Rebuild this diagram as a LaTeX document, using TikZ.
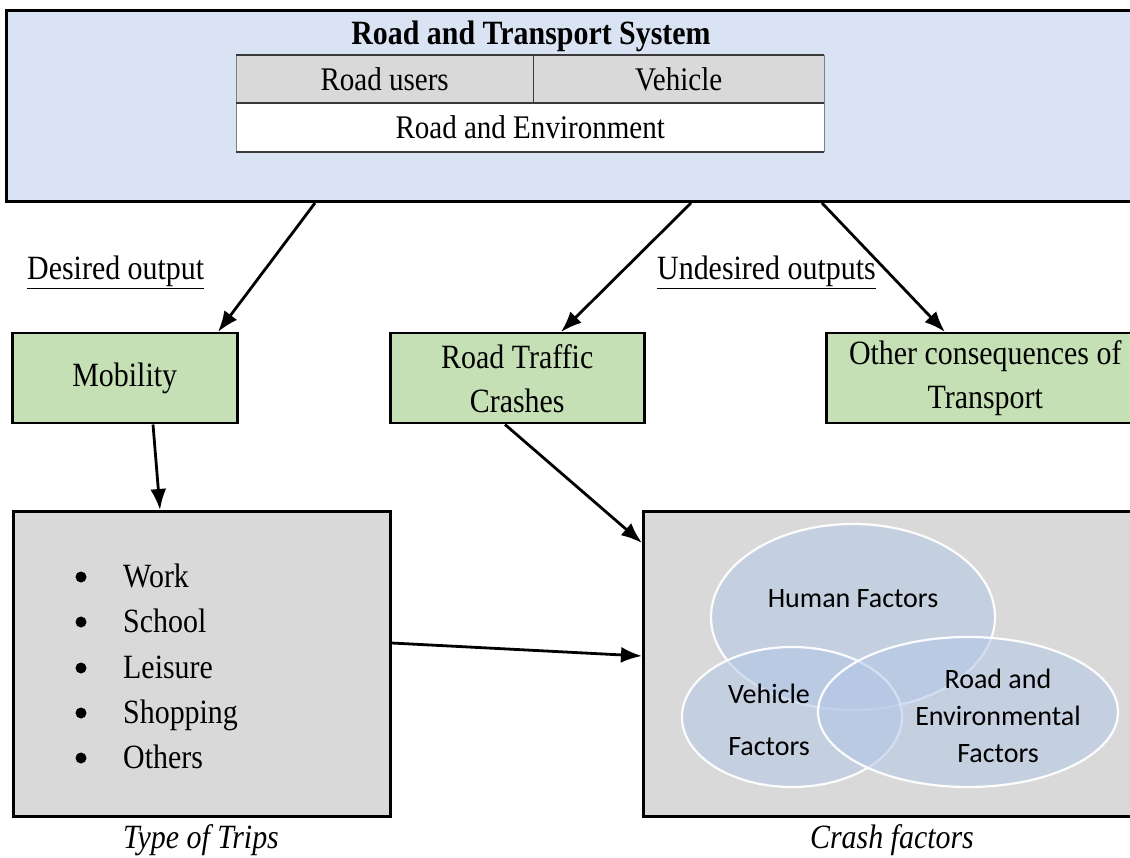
\documentclass[tikz,border=0pt]{standalone}
\usepackage{fontspec}
\setmainfont[FakeStretch=0.88]{Liberation Serif}
\newfontfamily\calfont{Carlito}
\usetikzlibrary{arrows.meta,shapes.geometric,calc}
\definecolor{topfill}{HTML}{DAE3F3}
\definecolor{greenfill}{HTML}{C5E0B4}
\definecolor{greyfill}{HTML}{D9D9D9}
\definecolor{ellfill}{HTML}{B4C7E7}
\definecolor{tblline}{HTML}{3A3A3A}
\begin{document}
\begin{tikzpicture}[x=1pt,y=-1pt,
  txt/.style={font=\fontsize{34}{44}\selectfont, inner sep=0pt},
  caltxt/.style={font=\calfont\fontsize{28}{34}\selectfont, inner sep=0pt},
  topbox/.style={draw=black, line width=3pt, fill=topfill, anchor=north west, inner sep=0pt},
  greenbox/.style={draw=black, line width=2.5pt, fill=greenfill, anchor=north west, inner sep=0pt, align=center, font=\fontsize{34}{44}\selectfont},
  greybox/.style={draw=black, line width=2.5pt, fill=greyfill, anchor=north west, inner sep=0pt},
  cell/.style={anchor=north west, inner sep=0pt, font=\fontsize{33}{40}\selectfont},
  bulletdot/.style={circle, fill=black, inner sep=0pt, minimum size=11pt},
  ell/.style={ellipse, draw=white, line width=2.2pt, fill=ellfill, fill opacity=0.55, draw opacity=0.95, inner sep=0pt},
  arr/.style={-{Latex[length=21pt,width=16pt]}, line width=2.8pt, black}]
\useasboundingbox (0,0) rectangle (1130,858);
\clip (0,0) rectangle (1130,858);
\fill[white] (0,0) rectangle (1130,858);

% top system box
\node[topbox, minimum width=1135pt, minimum height=191pt] (sys) at (5,9) {};
\node[txt, font=\fontsize{34}{40}\selectfont\bfseries] (title) at (531,36) {Road and Transport System};

% table
\node[cell, fill=greyfill, minimum width=297pt, minimum height=48pt] (ru) at (236,55) {Road users};
\node[cell, fill=greyfill, minimum width=291pt, minimum height=48pt] (veh) at (533,55) {Vehicle};
\node[cell, fill=white, minimum width=588pt, minimum height=49pt] (env) at (236,103) {Road and Environment};
\draw[gray, line width=0.8pt] (ru.north west) -- (env.south west);
\draw[gray, line width=0.8pt] (veh.north east) -- (env.south east);
\draw[tblline, line width=1pt] (veh.north west) -- (veh.south west);
\draw[tblline, line width=2pt] (ru.north west) -- (veh.north east);
\draw[tblline, line width=2pt] (env.north west) -- (env.north east);
\draw[tblline, line width=2pt] (env.south west) -- (env.south east);

% labels
\node[txt, anchor=base west] (des) at (27,280) {\underline{Desired output}};
\node[txt, anchor=base west] (undes) at (657,280) {\underline{Undesired outputs}};

% green boxes
\node[greenbox, minimum width=225pt, minimum height=90pt] (mob) at (11,332) {Mobility};
\node[greenbox, minimum width=254pt, minimum height=90pt] (rtc) at (389,332) {Road Traffic\\Crashes};
\node[greenbox, minimum width=318pt, minimum height=90pt] (oth) at (825,332) {Other consequences of\\Transport};

% grey boxes
\node[greybox, minimum width=377pt, minimum height=305pt] (trips) at (12,510) {};
\node[greybox, minimum width=500pt, minimum height=305pt] (cf) at (642,510) {};

% trips list
\foreach \i/\t/\yy in {1/Work/587, 2/School/632, 3/Leisure/678, 4/Shopping/723, 5/Others/768} {
  \node[bulletdot] (bul\i) at (81,\yy-10) {};
  \node[txt, anchor=base west] (item\i) at (123,\yy) {\t};
}

% captions
\node[txt, anchor=base, font=\fontsize{34}{40}\selectfont\itshape] (tcap) at (201,848) {Type of Trips};
\node[txt, anchor=base, font=\fontsize{34}{40}\selectfont\itshape] (ccap) at (892,848) {Crash factors};

% Venn ellipses
\node[ell, minimum width=284pt, minimum height=186pt] (hum) at (853,617) {};
\node[ell, minimum width=220pt, minimum height=140pt] (vehf) at (792,717) {};
\node[ell, minimum width=300pt, minimum height=150pt] (roadf) at (968,712) {};
\node[caltxt, anchor=base] (humt) at (853,607) {Human Factors};
\node[caltxt, anchor=base] (veht1) at (769,703) {Vehicle};
\node[caltxt, anchor=base] (veht2) at (769,755) {Factors};
\node[caltxt, anchor=base] (roadt1) at (998,688) {Road and};
\node[caltxt, anchor=base] (roadt2) at (998,725) {Environmental};
\node[caltxt, anchor=base] (roadt3) at (998,762) {Factors};

% arrows
\draw[arr] ([xshift=310pt]sys.south west) -- ([xshift=207pt]mob.north west);
\draw[arr] ([xshift=686pt]sys.south west) -- ([xshift=172pt]rtc.north west);
\draw[arr] ([xshift=817pt]sys.south west) -- ([xshift=120pt]oth.north west);
\draw[arr] ([xshift=142pt]mob.south west) -- ([xshift=148pt]trips.north west);
\draw[arr] ([xshift=116pt]rtc.south west) -- ([yshift=-33pt]cf.north west);
\draw[arr] ([yshift=-133pt]trips.north east) -- ([yshift=-146pt]cf.north west);
\end{tikzpicture}
\end{document}
